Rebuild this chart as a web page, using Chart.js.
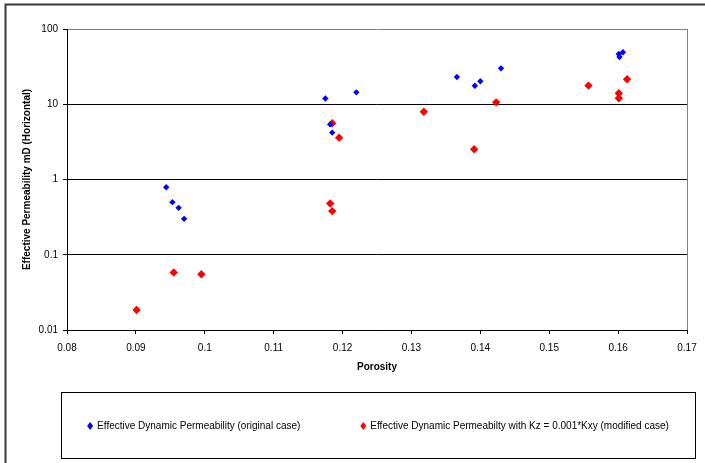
<!DOCTYPE html>
<html>
<head>
<meta charset="utf-8">
<script src="https://cdn.jsdelivr.net/npm/chart.js@4"></script>
<style>
  html, body { margin: 0; padding: 0; background: #fff; }
  canvas { display: block; }
</style>
</head>
<body>
<canvas id="myChart" width="705" height="463"></canvas>
<script>
// porosity (x) and effective permeability in mD (y)
var bluePorosity = [0.0944, 0.0953, 0.0962, 0.0970, 0.1175, 0.1182, 0.1185, 0.1220, 0.1366, 0.1392, 0.1400, 0.1430, 0.1601, 0.1607, 0.1602];
var bluePerm     = [0.79,   0.50,   0.42,   0.30,   11.9,   5.4,    4.2,    14.4,   23.0,   17.6,   20.2,   30.0,   46.5,   49.0,   42.5];
var redPorosity  = [0.0901, 0.0955, 0.0995, 0.1182, 0.1185, 0.1185, 0.1195, 0.1318, 0.1391, 0.1423, 0.1557, 0.1601, 0.1601, 0.1613];
var redPerm      = [0.0184, 0.058,  0.055,  0.48,   0.38,   5.6,    3.6,    7.96,   2.52,   10.6,   17.7,   12.0,   14.0,   21.5];

var blueLabel = 'Effective Dynamic Permeability (original case)';
var redLabel = 'Effective Dynamic Permeabilty with Kz = 0.001*Kxy (modified case)';

var xTicks = [0.08, 0.09, 0.10, 0.11, 0.12, 0.13, 0.14, 0.15, 0.16, 0.17];
var xTickLabels = ['0.08', '0.09', '0.1', '0.11', '0.12', '0.13', '0.14', '0.15', '0.16', '0.17'];
var yTicks = [0.01, 0.1, 1, 10, 100];
var yTickLabels = ['0.01', '0.1', '1', '10', '100'];

function toPoints(xs, ys) {
    return xs.map(function (x, i) { return { x: x, y: ys[i] }; });
}

var FONT = '"Liberation Sans", Arial, sans-serif';

// outer frame + legend box drawn by hand
var framePlugin = {
    id: 'frame',
    afterDraw: function (chart) {
        var c = chart.ctx;
        c.save();
        c.strokeStyle = '#3a3a3a';
        c.lineWidth = 2;
        c.beginPath();
        c.moveTo(5.5, 470);
        c.lineTo(5.5, 4.5);
        c.lineTo(720, 4.5);
        c.stroke();

        // legend box
        var bx = 61, by = 392, bw = 634, bh = 66;
        c.strokeStyle = '#000';
        c.lineWidth = 1;
        c.strokeRect(bx + 0.5, by + 0.5, bw, bh);

        c.font = '10px ' + FONT;
        c.textBaseline = 'middle';
        c.fillStyle = '#000';
        var items = chart.data.datasets.map(function (ds) {
            return { text: ds.label, color: ds.backgroundColor, w: c.measureText(ds.label).width };
        });
        var gap = 58;
        var total = items.reduce(function (s, it) { return s + 12 + it.w; }, 0) + gap * (items.length - 1);
        var x = bx + bw / 2 - total / 2;
        var y = by + bh / 2 + 1;
        items.forEach(function (it) {
            c.fillStyle = it.color;
            c.beginPath();
            c.moveTo(x + 4, y - 4);
            c.lineTo(x + 7, y);
            c.lineTo(x + 4, y + 4);
            c.lineTo(x + 1, y);
            c.closePath();
            c.fill();
            c.fillStyle = '#000';
            c.textAlign = 'left';
            c.fillText(it.text, x + 11, y);
            x += 12 + it.w + gap;
        });
        c.restore();
    }
};

var ctx = document.getElementById('myChart').getContext('2d');

var myChart = new Chart(ctx, {
    type: 'scatter',
    data: {
        datasets: [{
            label: blueLabel,
            data: toPoints(bluePorosity, bluePerm),
            backgroundColor: '#0000ff',
            borderColor: '#0000ff',
            borderWidth: 0,
            pointStyle: 'rectRot',
            pointRadius: 3.2
        }, {
            label: redLabel,
            data: toPoints(redPorosity, redPerm),
            backgroundColor: '#ff0000',
            borderColor: '#ff0000',
            borderWidth: 0,
            pointStyle: 'rectRot',
            pointRadius: 4.2
        }]
    },
    options: {
        responsive: false,
        animation: false,
        devicePixelRatio: 1,
        layout: {
            padding: { left: 17, right: 18, top: 29, bottom: 86 }
        },
        plugins: {
            legend: { display: false },
            tooltip: { enabled: false }
        },
        scales: {
            x: {
                type: 'linear',
                min: 0.08,
                max: 0.17,
                afterBuildTicks: function (scale) {
                    scale.ticks = xTicks.map(function (v) { return { value: v }; });
                },
                afterFit: function (scale) { scale.height = 47; },
                border: { color: '#000', width: 1 },
                grid: {
                    drawOnChartArea: true,
                    color: function (c) {
                        return (c.tick && c.tick.value === 0.17) ? '#808080' : 'rgba(0,0,0,0)';
                    },
                    tickColor: '#000',
                    tickLength: 4
                },
                ticks: {
                    autoSkip: false,
                    maxRotation: 0,
                    padding: 8,
                    color: '#000',
                    font: { family: FONT, size: 10 },
                    callback: function (v, i) { return xTickLabels[i]; }
                },
                title: {
                    display: true,
                    text: 'Porosity',
                    color: '#000',
                    font: { family: FONT, size: 10, weight: 'bold' }
                }
            },
            y: {
                type: 'logarithmic',
                min: 0.01,
                max: 100,
                afterBuildTicks: function (scale) {
                    scale.ticks = yTicks.map(function (v) { return { value: v }; });
                },
                afterFit: function (scale) { scale.width = 50; },
                border: { color: '#000', width: 1 },
                grid: {
                    color: function (c) {
                        return (c.tick && c.tick.value === 100) ? '#808080' : '#000';
                    },
                    tickColor: '#000',
                    tickLength: 4
                },
                ticks: {
                    autoSkip: false,
                    padding: 5,
                    color: '#000',
                    font: { family: FONT, size: 10 },
                    callback: function (v, i) { return yTickLabels[i]; }
                },
                title: {
                    display: true,
                    text: 'Effective Permeability mD (Horizontal)',
                    color: '#000',
                    font: { family: FONT, size: 10, weight: 'bold' }
                }
            }
        }
    },
    plugins: [framePlugin]
});
</script>
</body>
</html>
